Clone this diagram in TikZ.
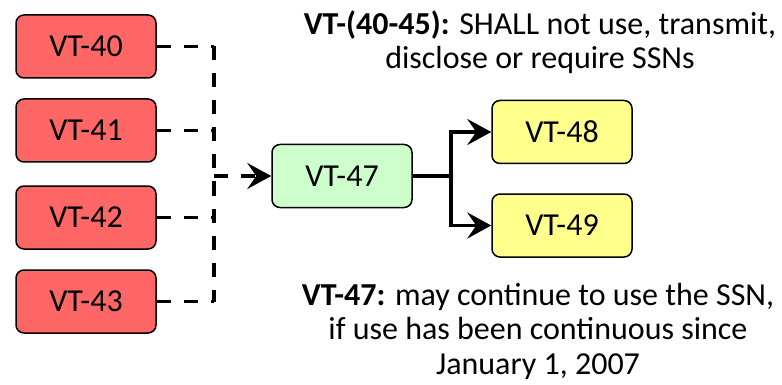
\documentclass[tikz,border=0pt]{standalone}
\usepackage{fontspec}
\setmainfont{Carlito}
\usetikzlibrary{arrows.meta}

\definecolor{vtred}{HTML}{FF6666}
\definecolor{vtgreen}{HTML}{CCFFCC}
\definecolor{vtyellow}{HTML}{FFFF8C}

\begin{document}
\begin{tikzpicture}[x=1pt, y=-1pt,
    vt/.style={draw, line width=1.5pt, rounded corners=8pt,
        minimum width=140pt, minimum height=63pt, inner sep=0pt,
        font=\fontsize{32}{34}\selectfont},
    note/.style={align=center, inner sep=0pt, font=\fontsize{32}{34.5}\selectfont},
    dashline/.style={line width=3.5pt, dash pattern=on 14pt off 13pt},
    link/.style={line width=3.5pt},
    tip/.style={-{Stealth[length=24pt, width=26pt, inset=9pt]}}]
        \useasboundingbox (0,0) rectangle (782,385);

        \coordinate (J) at (214, 0);
        \coordinate (S) at (451, 0);

        \node[vt, fill=vtred] (VT40) at (86, 46.5) {VT-40};
        \node[vt, fill=vtred] (VT41) at (86, 130.5) {VT-41};
        \node[vt, fill=vtred] (VT42) at (86, 217.5) {VT-42};
        \node[vt, fill=vtred] (VT43) at (86, 301.5) {VT-43};

        \node[vt, fill=vtgreen] (VT47) at (342, 176) {VT-47};
        \node[vt, fill=vtyellow] (VT48) at (562, 132) {VT-48};
        \node[vt, fill=vtyellow] (VT49) at (562, 225.5) {VT-49};

        % dashed bus from the red boxes
        \draw[dashline] (VT40.east) -- (VT40 -| J) (VT41.east) -- (VT41 -| J)
            (VT42.east) -- (VT42 -| J) (VT43.east) -- (VT43 -| J);
        \draw[dashline] (VT40 -| J) -- (VT43 -| J);
        \draw[dashline, tip] (J |- VT47) -- (VT47.west);

        % fork to 48 and 49
        \draw[link] (VT47.east) -- (VT47 -| S);
        \draw[link, tip] (VT47 -| S) |- (VT48.west);
        \draw[link, tip] (VT47 -| S) |- (VT49.west);

        \node[note] (capTop) at (540, 42) {\textbf{VT-(40-45):} SHALL not use, transmit,\\disclose or require SSNs};
        \node[note] (capBot) at (538, 331) {\textbf{VT-47:} may continue to use the SSN,\\if use has been continuous since\\January 1, 2007};
    \end{tikzpicture}
\end{document}
